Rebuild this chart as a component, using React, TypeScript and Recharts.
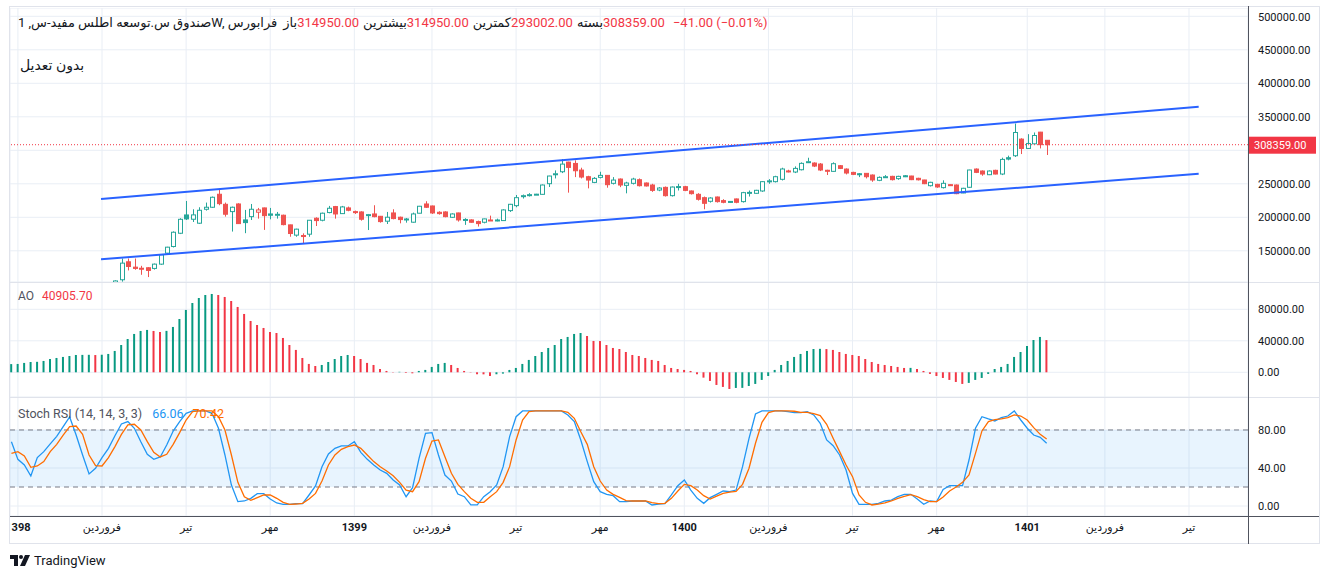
import React from "react";
import {
  ComposedChart,
  Bar,
  Line,
  XAxis,
  YAxis,
  CartesianGrid,
  ReferenceLine,
  ReferenceArea,
  Cell,
} from "recharts";

// weekly bars, index 0 = first bar at the left edge
const FIRST_CANDLE = 16;

// prices in thousands (bars 16..160)
const openK = [
  95, 106.8, 133.6, 125.6, 124.0, 124.7, 123.7, 130.1, 146.5, 156.4,
  176.2, 203.5, 197.1, 191.2, 212, 215, 234.4, 219.4, 208.5, 219.9,
  196.1, 201, 207.6, 214, 205, 203, 203.1, 188.7, 173.4, 172.8,
  174.8, 198.6, 195.6, 207.1, 216, 205.5, 214, 208.5, 208, 203.5,
  205, 201.5, 194.2, 206.5, 200.1, 197, 192.7, 206.1, 219.9, 216.9,
  207.5, 208, 200, 206.5, 196.3, 196.1, 193.6, 192.6, 196, 195.6,
  195.1, 210, 217.4, 231.8, 233.3, 234.3, 234.3, 250.2, 264, 268,
  282.4, 280.4, 270.5, 260.6, 252.1, 259.6, 262.6, 250.7, 257.1, 247.7,
  250.7, 256.1, 251.2, 248.2, 240.7, 244.7, 232.3, 245.4, 245.7, 239.3,
  234.3, 229.3, 223.9, 230.3, 224.9, 223.7, 227.4, 223.4, 236.6, 235.8,
  239.3, 253.9, 253.2, 256.7, 269.2, 267.6, 271, 282.5, 281, 279.5,
  270.2, 268.6, 277, 272, 267, 265, 265.6, 263.1, 255.2, 260.4,
  261.1, 257.7, 262, 261.6, 258.2, 255.7, 247.2, 249.2, 244.3, 248.7,
  248.2, 236.3, 244.8, 272, 269.1, 263.6, 270.1, 264.6, 288.9, 291.9,
  316.7, 302.8, 309.7, 327.1, 314.95,
];
const highK = [
  106, 138.5, 138.5, 138.5, 127.6, 125.5, 131, 145, 156, 179,
  198.6, 224.4, 212, 215, 222, 231, 241.8, 222, 216, 221,
  211, 219.9, 214, 214.5, 214, 208, 204, 189, 183, 176,
  196, 200, 207, 217, 217, 217, 216, 210, 209, 205,
  218, 202, 208, 212, 201, 199, 207, 217, 224, 217.5,
  209, 209, 206, 207, 198.6, 197, 195, 198, 202.5, 198,
  212, 220, 233.3, 234, 236, 235, 249, 262, 270, 286.9,
  283, 285, 274, 262, 260, 268, 263, 260, 258, 253,
  259, 258, 252, 250, 245, 246, 246, 250, 247, 240,
  236, 231, 230, 231, 227, 224, 228, 238, 240, 241,
  254, 257, 262, 274, 271, 276, 282, 288.9, 282, 281,
  271, 282, 278, 273, 268, 266, 266, 264, 261, 263,
  262, 262, 263, 262, 259, 256, 253, 250, 255.2, 249,
  249, 244, 271, 273, 270, 270, 271, 289, 292, 339.9,
  318, 324.1, 326.6, 327.5, 314.95,
];
const lowK = [
  90, 104, 120.7, 121.7, 114.2, 110.8, 122, 129, 145, 155,
  175, 196, 193, 190, 210, 214, 218, 201, 178.7, 190,
  176.3, 196, 198, 181.2, 197, 198, 188, 171, 171, 161.4,
  171, 187, 194, 206, 198, 205, 209, 205, 195, 181,
  200, 192, 190, 197, 191, 192, 192, 206, 214, 205,
  204, 200, 199, 193.6, 188.7, 192, 186.2, 191, 195, 194,
  195, 208, 215, 228, 231, 234, 234, 245.2, 258, 266,
  236.8, 260, 258, 243.2, 251, 258, 244.2, 249, 245, 235.8,
  249, 246, 246, 238, 239, 231, 231, 240, 239, 234,
  225, 212, 222, 222, 221, 222, 221, 222, 231, 235,
  238, 250, 252, 255, 267, 266, 270, 281, 275, 269,
  263.1, 268, 272, 264, 263, 260, 258, 253, 254, 259,
  255, 256, 260, 255.5, 255, 249.5, 246, 244, 243, 247,
  234.5, 236, 244, 266, 262, 263, 264, 263, 285, 290,
  294.4, 302, 309, 302.8, 293.002,
];
const closeK = [
  105, 131.6, 126.6, 123.7, 123.4, 120.7, 130.1, 144, 155.4, 177.7,
  197, 197.6, 203.6, 210.5, 215, 229.9, 220.4, 204.6, 215, 190.6,
  192.1, 212, 211, 202.5, 203.1, 204.5, 189.1, 175.8, 182.3, 172.3,
  195.6, 195.1, 206.1, 213.5, 205, 215.5, 210.5, 208, 197.1, 204,
  201, 193.6, 200.1, 198.1, 196.6, 197.5, 205, 216.5, 215, 206.5,
  205.5, 201, 205, 196.1, 196.8, 192.6, 190.6, 197.6, 195.6, 196,
  211, 219.4, 229.3, 232.3, 233.8, 234.5, 248.2, 261.6, 265, 279.4,
  274.5, 269.5, 260.1, 255.6, 258.1, 262.6, 248.7, 255.6, 248.2, 251.2,
  257.1, 247.2, 246.8, 240.2, 243.7, 232.3, 245.2, 245.9, 240.2, 235.3,
  226.9, 220.9, 228.8, 223.4, 222.4, 222.9, 222.4, 236.8, 237.2, 240.3,
  253.2, 254.4, 260.6, 272.1, 268.7, 273, 280.5, 283, 276.5, 270.6,
  270, 280, 273, 266.1, 264.1, 264.4, 260.6, 255.7, 259.6, 260.6,
  256.2, 261.1, 261.3, 256.2, 256, 250.2, 252.2, 245.3, 250.7, 247.7,
  235.3, 243.3, 270.6, 267.1, 264.6, 269.1, 264.6, 286.4, 286.9, 326.6,
  302.8, 310.2, 322.1, 308.4, 308.359,
];

// Awesome Oscillator, thousands (bars 0..160)
const aoThousands = [
  10.4, 10.6, 11.9, 13.1, 13.3, 14.4, 16.9, 18.2, 19.5, 20.7,
  22.0, 22.1, 22.2, 21.9, 22.3, 23.3, 27.1, 34.7, 42.3, 48.7,
  52.5, 53.8, 52.5, 51.2, 52.6, 57.6, 67.7, 79.2, 88.0, 94.4,
  98.2, 99.5, 98.2, 95.7, 90.6, 83.0, 74.1, 65.2, 60.1, 56.3,
  51.2, 49.9, 43.6, 34.7, 28.4, 18.2, 10.6, 8.0, 9.3, 13.1,
  16.9, 20.7, 22.0, 20.7, 16.9, 11.9, 9.3, 4.2, 1.7, 0.4,
  0.6, -0.8, -1.3, 1.7, 3.0, 6.8, 10.6, 11.9, 9.3, 5.5,
  1.7, 0.4, -2.5, -2.6, -4.7, -2.5, -1.7, 3.0, 5.5, 10.6,
  15.7, 20.7, 25.8, 30.9, 34.7, 42.3, 44.9, 48.7, 49.9, 46.1,
  39.8, 39.7, 34.7, 30.9, 29.6, 25.8, 22.0, 20.7, 18.2, 15.7,
  14.4, 9.3, 5.5, 4.2, 3.0, 1.7, -2.5, -6.8, -11.0, -16.1,
  -18.6, -21.2, -19.9, -19.8, -17.4, -14.8, -9.7, -4.7, 3.0, 9.3,
  14.4, 19.5, 23.3, 27.1, 29.6, 29.8, 29.5, 28.4, 25.8, 23.3,
  22.0, 20.7, 16.9, 13.1, 10.6, 9.3, 8.0, 6.8, 5.5, 5.6,
  4.2, 1.7, -2.1, -4.7, -7.2, -9.7, -12.3, -14.8, -13.5, -9.7,
  -7.2, -2.1, 4.2, 6.8, 10.6, 19.5, 25.8, 33.4, 41.1, 44.9,
  40.9057,
];

// Stoch RSI (14, 14, 3, 3), bars 0..160
const stochK = [
  67.7, 49.1, 43.2, 31.6, 50.9, 57.2, 65.3, 73.3, 83.5, 93.7,
  74.7, 53.7, 33.7, 39.7, 50.9, 60.7, 74.0, 86.3, 88.8, 81.8,
  67.7, 54.4, 49.1, 51.6, 64.2, 78.9, 88.8, 97.5, 100, 100,
  100, 97.5, 81.8, 53.7, 22.1, 4.6, 5.3, 8.1, 13.0, 13.0,
  7.4, 3.2, 1.8, 1.8, 2.5, 2.5, 11.6, 21.1, 41.4, 54.7,
  60.7, 63.2, 63.2, 67.7, 56.5, 49.1, 43.2, 37.9, 34.4, 27.4,
  22.1, 9.8, 19.3, 50.2, 76.5, 77.2, 53.7, 32.6, 26.3, 12.6,
  9.8, 1.1, 1.1, 9.8, 15.1, 22.1, 41.4, 73.0, 94.0, 100,
  100, 100, 100, 100, 100, 100, 95.8, 88.8, 69.5, 46.7,
  25.6, 15.1, 12.3, 10.9, 4.6, 4.6, 5.3, 5.3, 5.3, 1.1,
  2.1, 2.5, 11.6, 21.4, 27.4, 16.8, 8.1, 2.8, 8.8, 12.3,
  15.8, 15.1, 16.8, 41.4, 71.2, 96.8, 100, 100, 100, 100,
  99.3, 98.2, 98.2, 99.3, 95.8, 87.0, 69.5, 63.5, 53.7, 37.9,
  13.3, 1.8, 1.8, 1.8, 2.8, 5.3, 6.3, 9.8, 12.3, 12.3,
  7.4, 1.8, 5.3, 4.6, 17.5, 21.4, 21.4, 21.4, 48.4, 81.8,
  94.0, 91.6, 89.5, 93.0, 94.7, 100, 90.5, 81.8, 74.7, 72.3,
  66.06,
];
const stochD = [
  55.4, 57.2, 52.6, 40.7, 42.1, 46.7, 57.2, 64.9, 74.7, 83.5,
  84.2, 75.4, 53.7, 42.5, 42.1, 50.9, 62.5, 75.4, 85.3, 86.0,
  80.0, 67.7, 56.5, 51.6, 54.4, 64.9, 77.2, 90.5, 99.3, 100,
  100, 100, 94.0, 80.0, 53.7, 24.9, 9.8, 6.0, 8.8, 11.6,
  11.6, 8.1, 3.9, 1.8, 2.1, 2.8, 7.4, 13.3, 26.3, 43.2,
  53.7, 59.7, 62.5, 64.2, 60.7, 53.7, 46.7, 41.4, 36.8, 31.9,
  24.9, 16.8, 15.1, 25.6, 50.2, 68.4, 69.5, 51.9, 34.4, 22.8,
  15.1, 8.1, 3.9, 3.9, 9.8, 15.1, 24.9, 41.4, 69.5, 90.5,
  99.3, 100, 100, 100, 100, 100, 98.6, 92.3, 78.2, 64.9,
  41.4, 26.3, 16.8, 12.3, 9.1, 5.6, 5.3, 5.3, 5.3, 3.5,
  2.5, 2.8, 8.1, 15.8, 22.8, 21.4, 16.8, 10.9, 7.4, 10.5,
  13.3, 14.7, 15.4, 22.8, 39.7, 66.0, 88.1, 98.2, 100, 100,
  100, 99.7, 98.6, 98.6, 97.2, 95.1, 86.0, 71.2, 57.2, 43.2,
  30.9, 11.6, 3.9, 1.1, 2.1, 3.2, 5.3, 8.1, 10.2, 11.9,
  9.8, 6.7, 4.6, 4.6, 9.5, 15.8, 20.0, 24.9, 32.6, 55.4,
  79.0, 88.8, 90.9, 91.6, 93.0, 95.8, 94.7, 90.5, 82.5, 75.4,
  70.42,
];

// time axis
const xTickIndex = [1, 14, 27, 40, 53, 65, 78, 91, 104, 117, 130, 143, 157, 169, 182];
const xTickLabels = [
  "1398", "فروردین", "تیر", "مهر",
  "1399", "فروردین", "تیر", "مهر",
  "1400", "فروردین", "تیر", "مهر",
  "1401", "فروردین", "تیر",
];
const priceTicks = [150000, 200000, 250000, 300000, 350000, 400000, 450000, 500000];
const aoTicks = [0, 40000, 80000];
const stochTicks = [0, 40, 80];

// channel drawn on the chart (bar index, price)
const channelUpper = [{ x: 13.85, y: 227300 }, { x: 183.5, y: 365100 }];
const channelLower = [{ x: 13.85, y: 137300 }, { x: 183.5, y: 265100 }];

const LAST_CLOSE = 308359;
const TEAL = "#26a69a";
const RED = "#ef5350";
const AO_UP = "#089981";
const AO_DOWN = "#f23645";
const K_BLUE = "#2196f3";
const D_ORANGE = "#ff6d00";
const GRID = "#e9eef5";
const TEXT = "#131722";
const FONT = "Roboto, 'DejaVu Sans', sans-serif";

const X_DOMAIN: [number, number] = [-0.22, 191.12];
const W = 1309;
const AXIS_W = 71;

const candleRows = openK.map((o, j) => {
  const open = o * 1000;
  const high = highK[j] * 1000;
  const low = lowK[j] * 1000;
  const close = closeK[j] * 1000;
  const prevClose = j > 0 ? closeK[j - 1] * 1000 : open;
  return {
    idx: FIRST_CANDLE + j,
    open,
    high,
    low,
    close,
    range: [low, high],
    up: close >= prevClose,
    hollow: close >= open,
  };
});

const aoRows = aoThousands.map((v, i) => ({
  idx: i,
  ao: v * 1000,
  rising: i === 0 || v > aoThousands[i - 1],
}));

const stochRows = stochK.map((k, i) => ({ idx: i, k, d: stochD[i] }));

function CandleShape(props: any) {
  const { x, y, width, height, payload } = props;
  if (x == null || y == null) return null;
  const { open, close, high, low, up, hollow } = payload;
  const span = high - low || 1;
  const per = height / span;
  const bodyTop = y + (high - Math.max(open, close)) * per;
  const bodyH = Math.max(1, Math.abs(open - close) * per);
  const cx = Math.round(x + width / 2) + 0.5;
  const color = up ? TEAL : RED;
  return (
    <g>
      <line x1={cx} x2={cx} y1={y} y2={y + height} stroke={color} strokeWidth={1} />
      <rect
        x={cx - 2}
        y={bodyTop}
        width={4}
        height={bodyH}
        fill={hollow ? "#ffffff" : color}
        stroke={color}
        strokeWidth={1}
      />
    </g>
  );
}

function PriceTick(props: any) {
  const { x, y, payload, skip } = props;
  if (skip && payload.value === skip) return <g />;
  return (
    <text x={x + 10} y={y + 4} fontSize={11} fill={TEXT} textAnchor="start">
      {Number(payload.value).toFixed(2)}
    </text>
  );
}

function TimeTick(props: any) {
  const { x, y, payload } = props;
  const k = xTickIndex.indexOf(payload.value);
  const label = k >= 0 ? xTickLabels[k] : "";
  const isYear = /^\d+$/.test(label);
  return (
    <text
      x={x}
      y={y + 15}
      fontSize={11}
      fill={TEXT}
      textAnchor="middle"
      fontWeight={isYear ? 700 : 400}
    >
      {label}
    </text>
  );
}

function PriceTag(props: any) {
  const { viewBox } = props;
  if (!viewBox) return null;
  const xx = viewBox.x + viewBox.width;
  const yy = viewBox.y;
  return (
    <g>
      <rect x={xx} y={yy - 8} width={68} height={17} fill={AO_DOWN} />
      <text x={xx + 6} y={yy + 4} fontSize={11} fill="#ffffff">
        {LAST_CLOSE.toFixed(2)}
      </text>
    </g>
  );
}

const abs = (s: React.CSSProperties): React.CSSProperties => ({ position: "absolute", ...s });

export default function App() {
  return (
    <div
      style={{
        position: "relative",
        width: 1330,
        height: 579,
        background: "#ffffff",
        fontFamily: FONT,
        color: TEXT,
        overflow: "hidden",
      }}
    >
      <style>{`body{margin:0}`}</style>

      {/* outer frame */}
      <div style={abs({ left: 9, top: 6, width: 1311, height: 538, border: "1px solid #e0e3eb", boxSizing: "border-box" })} />

      {/* price pane */}
      <div style={abs({ left: 10, top: 8 })}>
        <ComposedChart width={W} height={274} data={candleRows} margin={{ top: 0, right: 0, bottom: 0, left: 0 }}>
          <CartesianGrid stroke={GRID} />
          <XAxis dataKey="idx" type="number" domain={X_DOMAIN} ticks={xTickIndex} allowDataOverflow hide />
          <YAxis
            orientation="right"
            width={AXIS_W}
            domain={[103440, 512400]}
            ticks={priceTicks}
            allowDataOverflow
            axisLine={false}
            tickLine={false}
            tickSize={0}
            tickMargin={0}
            tick={<PriceTick skip={300000} />}
          />
          <Bar dataKey="range" barSize={5} shape={<CandleShape />} isAnimationActive={false} />
          <ReferenceLine segment={channelUpper} stroke="#2962ff" strokeWidth={2} ifOverflow="visible" />
          <ReferenceLine segment={channelLower} stroke="#2962ff" strokeWidth={2} ifOverflow="visible" />
          <ReferenceLine y={LAST_CLOSE} stroke={AO_DOWN} strokeDasharray="1 2" label={<PriceTag />} />
        </ComposedChart>
      </div>

      {/* AO pane */}
      <div style={abs({ left: 10, top: 282 })}>
        <ComposedChart width={W} height={115} data={aoRows} margin={{ top: 0, right: 0, bottom: 0, left: 0 }}>
          <CartesianGrid stroke={GRID} />
          <XAxis dataKey="idx" type="number" domain={X_DOMAIN} ticks={xTickIndex} allowDataOverflow hide />
          <YAxis
            orientation="right"
            width={AXIS_W}
            domain={[-31400, 114700]}
            ticks={aoTicks}
            allowDataOverflow
            axisLine={false}
            tickLine={false}
            tickSize={0}
            tickMargin={0}
            tick={<PriceTick />}
          />
          <Bar dataKey="ao" barSize={2} isAnimationActive={false}>
            {aoRows.map((r) => (
              <Cell key={r.idx} fill={r.rising ? AO_UP : AO_DOWN} />
            ))}
          </Bar>
        </ComposedChart>
      </div>

      {/* Stoch RSI pane + time axis */}
      <div style={abs({ left: 10, top: 397 })}>
        <ComposedChart width={W} height={146} data={stochRows} margin={{ top: 0, right: 0, bottom: 0, left: 0 }}>
          <CartesianGrid stroke={GRID} />
          <XAxis
            dataKey="idx"
            type="number"
            domain={X_DOMAIN}
            ticks={xTickIndex}
            allowDataOverflow
            height={27}
            axisLine={false}
            tickLine={false}
            tickSize={0}
            tickMargin={0}
            interval={0}
            tick={<TimeTick />}
          />
          <YAxis
            orientation="right"
            width={AXIS_W}
            domain={[-10.5, 114.7]}
            ticks={stochTicks}
            allowDataOverflow
            axisLine={false}
            tickLine={false}
            tickSize={0}
            tickMargin={0}
            tick={<PriceTick />}
          />
          <ReferenceArea y1={20} y2={80} fill={K_BLUE} fillOpacity={0.1} stroke="none" />
          <ReferenceLine y={80} stroke="#787b86" strokeDasharray="5 4" />
          <ReferenceLine y={20} stroke="#787b86" strokeDasharray="5 4" />
          <Line dataKey="k" stroke={K_BLUE} strokeWidth={1.3} dot={false} isAnimationActive={false} />
          <Line dataKey="d" stroke={D_ORANGE} strokeWidth={1.3} dot={false} isAnimationActive={false} />
        </ComposedChart>
      </div>

      {/* pane separators and axis borders */}
      <div style={abs({ left: 10, top: 282, width: 1309, height: 1, background: "#e0e3eb" })} />
      <div style={abs({ left: 10, top: 397, width: 1309, height: 1, background: "#e0e3eb" })} />
      <div style={abs({ left: 10, top: 516, width: 1309, height: 1, background: "#50535e" })} />
      <div style={abs({ left: 1248, top: 6, width: 1, height: 538, background: "#50535e" })} />

      {/* legends */}
      <div
        style={abs({
          left: 18,
          top: 15,
          display: "flex",
          alignItems: "baseline",
          fontSize: 13,
          whiteSpace: "nowrap",
          direction: "ltr",
        })}
      >
        <span>صندوق س.توسعه اطلس مفید-س, 1W, فرابورس</span>
        <span style={{ marginLeft: 6 }}>باز</span>
        <span style={{ color: AO_DOWN }}>314950.00</span>
        <span style={{ marginLeft: 4 }}>بیشترین</span>
        <span style={{ color: AO_DOWN }}>314950.00</span>
        <span style={{ marginLeft: 4 }}>کمترین</span>
        <span style={{ color: AO_DOWN }}>293002.00</span>
        <span style={{ marginLeft: 4 }}>بسته</span>
        <span style={{ color: AO_DOWN }}>308359.00</span>
        <span style={{ color: AO_DOWN, marginLeft: 8 }}>−41.00 (−0.01%)</span>
      </div>
      <div style={abs({ left: 20, top: 57, fontSize: 14 })}>بدون تعدیل</div>

      <div style={abs({ left: 18, top: 289, fontSize: 12, display: "flex", whiteSpace: "nowrap" })}>
        <span style={{ color: "#50535e" }}>AO</span>
        <span style={{ color: AO_DOWN, marginLeft: 8 }}>40905.70</span>
      </div>
      <div style={abs({ left: 18, top: 406, fontSize: 12.5, display: "flex", whiteSpace: "nowrap" })}>
        <span style={{ color: "#50535e" }}>Stoch RSI (14, 14, 3, 3)</span>
        <span style={{ color: K_BLUE, marginLeft: 10 }}>66.06</span>
        <span style={{ color: D_ORANGE, marginLeft: 9 }}>70.42</span>
      </div>

      {/* branding */}
      <div style={abs({ left: 10, top: 553, display: "flex", alignItems: "center", fontSize: 13 })}>
        <svg width={20} height={11} viewBox="0 0 20 11">
          <path d="M0 0h8v11h-4v-7h-4z" fill={TEXT} />
          <circle cx={11} cy={2} r={2} fill={TEXT} />
          <path d="M15 0h5l-5 11h-5z" fill={TEXT} />
        </svg>
        <span style={{ marginLeft: 4 }}>TradingView</span>
      </div>
    </div>
  );
}
